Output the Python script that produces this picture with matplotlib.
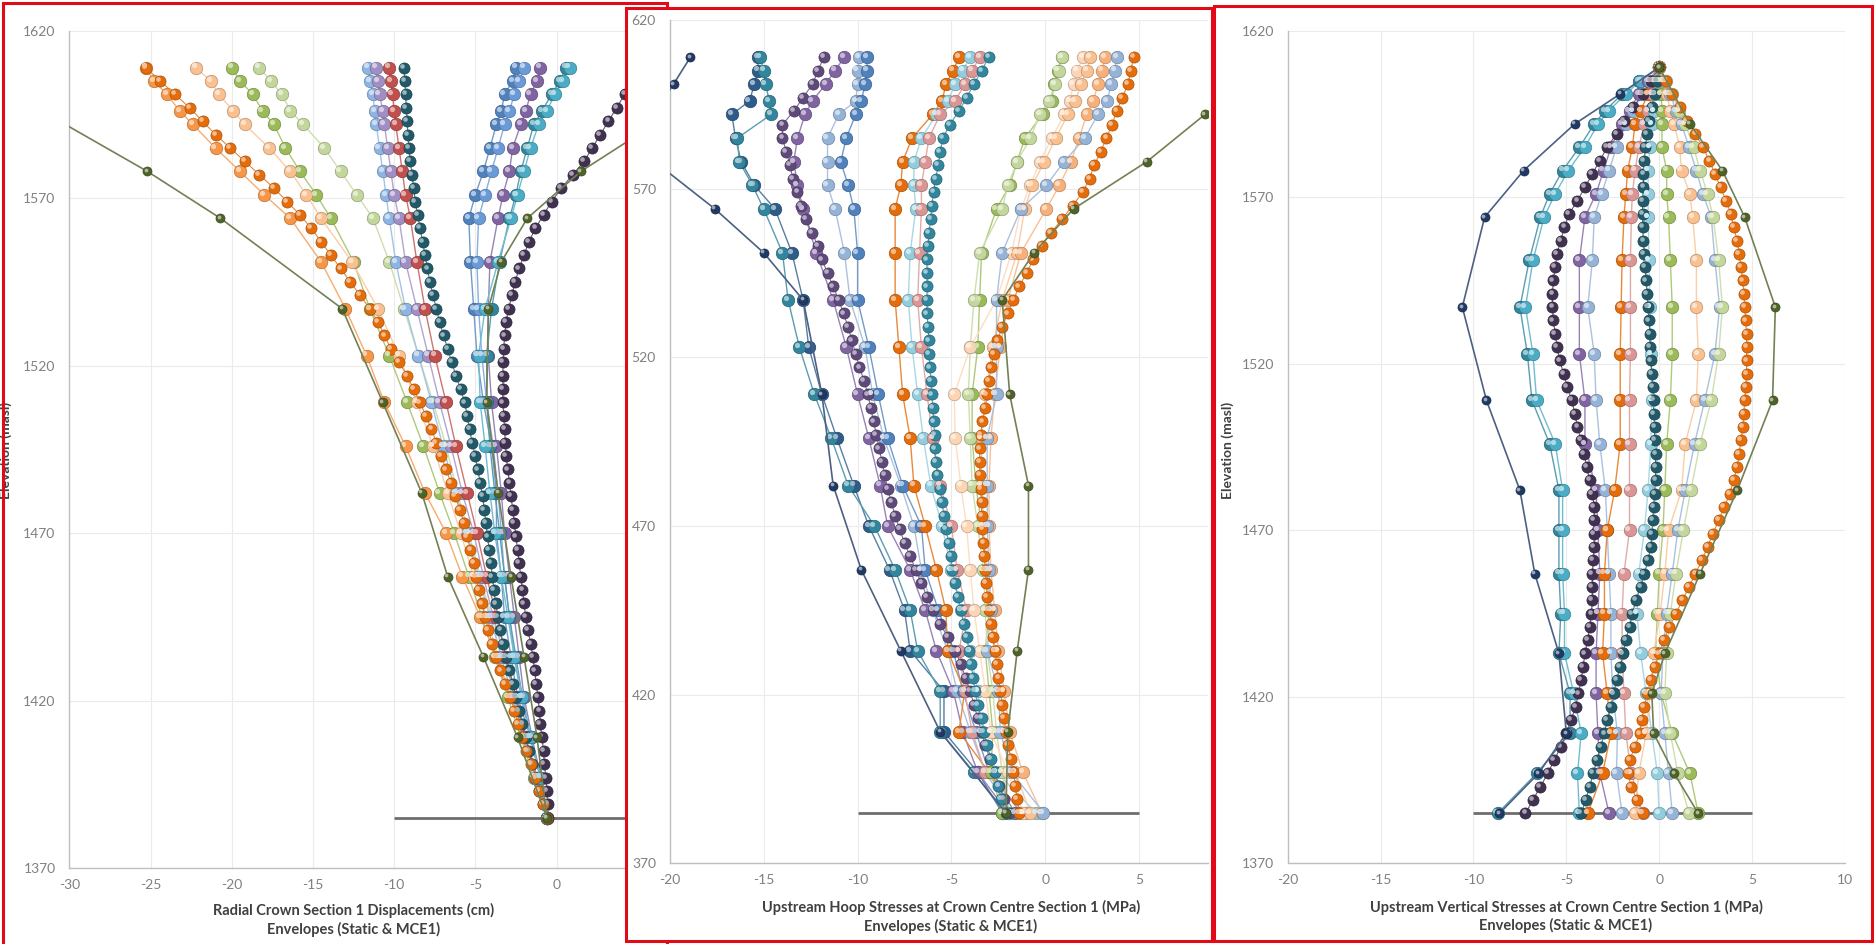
import matplotlib
matplotlib.use("Agg")
import matplotlib.pyplot as plt
import matplotlib.colors as mcolors
from matplotlib.patches import Rectangle
from matplotlib.transforms import offset_copy

plt.rcParams['font.family'] = ['Lato', 'DejaVu Sans']
plt.rcParams['axes.unicode_minus'] = False

# ---------------- data ----------------
Y_TICKS = [1370, 1420, 1470, 1520, 1570, 1620]
Y_LABELS_FULL = ["1370", "1420", "1470", "1520", "1570", "1620"]
Y_LABELS_CUT = ["370", "420", "470", "520", "570", "620"]

# sparse node elevations (top to bottom)
ELEV_NODES = [1609, 1605, 1601, 1596, 1592, 1585, 1578, 1571, 1564, 1551, 1537, 1523,
              1509, 1496, 1482, 1470, 1457, 1445, 1433, 1421, 1409, 1397, 1385]
# dense node elevations (bottom to top, 4 m apart)
ELEV_DENSE = list(range(1385, 1610, 4))

# ---- panel 1: radial displacements (cm) ----
P1_ORANGE = [-25.3, -24.8, -24.0, -23.2, -22.4, -21.0, -19.5, -18.0, -16.4, -14.5, -13.0, -11.7,
             -10.6, -9.3, -8.1, -6.8, -5.8, -4.7, -3.7, -2.8, -2.0, -1.2, -0.6]
P1_LIGHT_ORANGE = [-22.2, -21.3, -20.8, -19.9, -19.2, -17.7, -16.4, -15.4, -14.5, -12.6, -11.0, -9.7,
                   -8.6, -7.6, -6.7, -5.9, -5.1, -4.3, -3.6, -2.8, -2.0, -1.3, -0.6]
P1_GREEN = [-20.0, -19.5, -18.7, -18.1, -17.4, -16.7, -15.8, -14.8, -13.9, -12.5, -11.5, -10.3,
            -9.2, -8.2, -7.2, -6.3, -5.4, -4.6, -3.8, -3.0, -2.2, -1.4, -0.6]
P1_LIGHT_GREEN = [-18.3, -17.6, -16.9, -16.4, -15.6, -14.3, -13.3, -12.3, -11.3, -10.3, -9.4, -8.5,
                  -7.6, -6.8, -6.1, -5.4, -4.7, -4.0, -3.4, -2.7, -2.0, -1.3, -0.6]
P1_STEEL = [-11.6, -11.5, -11.3, -11.2, -11.1, -10.9, -10.7, -10.5, -10.3, -9.9, -9.3, -8.5,
            -7.7, -7.0, -6.2, -5.5, -4.8, -4.1, -3.4, -2.7, -2.0, -1.3, -0.6]
P1_LAVENDER = [-11.1, -11.0, -10.9, -10.7, -10.6, -10.4, -10.2, -10.0, -9.7, -9.3, -8.6, -7.9,
               -7.2, -6.5, -5.8, -5.1, -4.5, -3.9, -3.2, -2.6, -1.9, -1.2, -0.6]
P1_RED = [-10.3, -10.2, -10.1, -10.0, -9.9, -9.7, -9.5, -9.3, -9.0, -8.6, -8.1, -7.5,
          -6.8, -6.2, -5.5, -4.9, -4.3, -3.7, -3.1, -2.5, -1.9, -1.2, -0.6]
P1_BLUE = [-2.5, -2.7, -3.2, -3.4, -3.7, -4.1, -4.5, -5.0, -5.4, -5.3, -5.1, -4.9,
           -4.5, -4.0, -3.7, -3.7, -3.4, -3.2, -2.8, -2.4, -1.6, -0.9, -0.6]
P1_BLUE2 = [-2.0, -2.3, -2.6, -2.9, -3.2, -3.6, -4.0, -4.4, -4.8, -4.9, -4.8, -4.6,
            -4.3, -3.9, -3.6, -3.4, -3.2, -2.9, -2.6, -2.2, -1.6, -1.0, -0.6]
P1_PURPLE = [-1.0, -1.2, -1.6, -1.9, -2.2, -2.7, -2.9, -3.3, -3.6, -4.1, -4.2, -4.2,
             -4.0, -3.7, -3.4, -3.2, -2.9, -2.6, -2.3, -2.0, -1.5, -1.0, -0.6]
P1_TEAL = [0.6, 0.2, -0.3, -0.9, -1.4, -1.8, -2.2, -2.5, -2.9, -3.5, -4.0, -4.3,
           -4.3, -4.1, -3.8, -3.5, -3.2, -2.9, -2.5, -2.1, -1.6, -1.0, -0.6]
P1_TEAL2 = [0.8, 0.4, -0.1, -0.6, -1.1, -1.6, -2.0, -2.4, -2.8, -3.6, -4.4, -4.8,
            -4.7, -4.4, -4.1, -3.8, -3.4, -3.0, -2.6, -2.1, -1.6, -1.0, -0.6]

P1_D_ORANGE = [-0.6, -0.85, -1.1, -1.3, -1.55, -1.85, -2.1, -2.35, -2.6, -2.85,
               -3.2, -3.45, -3.7, -3.95, -4.2, -4.4, -4.6, -4.8, -4.95, -5.1,
               -5.3, -5.5, -5.7, -5.95, -6.25, -6.5, -6.8, -7.1, -7.4, -7.7,
               -8.05, -8.4, -8.8, -9.2, -9.7, -10.2, -10.6, -11.0, -11.5, -12.1,
               -12.7, -13.3, -13.9, -14.5, -15.1, -15.8, -16.6, -17.4, -18.3, -19.2,
               -20.1, -21.0, -21.8, -22.6, -23.5, -24.4, -25.3]
P1_D_PURPLE = [-0.5, -0.55, -0.6, -0.65, -0.75, -0.8, -0.9, -1.0, -1.05, -1.15,
               -1.25, -1.35, -1.45, -1.6, -1.75, -1.9, -2.0, -2.1, -2.2, -2.3,
               -2.4, -2.5, -2.6, -2.7, -2.8, -2.9, -3.0, -3.1, -3.15, -3.2,
               -3.25, -3.3, -3.3, -3.3, -3.3, -3.25, -3.2, -3.1, -2.95, -2.75,
               -2.55, -2.3, -2.0, -1.7, -1.3, -0.8, -0.3, 0.3, 1.0, 1.7,
               2.2, 2.7, 3.2, 3.7, 4.2, 4.7, 5.2]
P1_D_TEAL = [-0.6, -0.85, -1.1, -1.3, -1.5, -1.7, -1.9, -2.1, -2.3, -2.5,
             -2.7, -2.9, -3.1, -3.3, -3.45, -3.6, -3.75, -3.85, -3.95, -4.05,
             -4.15, -4.25, -4.35, -4.45, -4.55, -4.7, -4.85, -5.0, -5.2, -5.35,
             -5.5, -5.65, -5.9, -6.2, -6.45, -6.7, -6.95, -7.2, -7.4, -7.6,
             -7.8, -7.95, -8.1, -8.25, -8.4, -8.55, -8.7, -8.8, -8.9, -9.0,
             -9.1, -9.15, -9.2, -9.25, -9.3, -9.35, -9.4]

P1_ENV_NEG_ELEV = [1601, 1578, 1564, 1537, 1509, 1482, 1457, 1433, 1409, 1385]
P1_ENV_NEG = [-33.5, -25.2, -20.7, -13.2, -10.7, -8.3, -6.7, -4.5, -2.4, -0.6]
P1_ENV_POS_ELEV = [1601, 1592, 1578, 1564, 1551, 1537, 1509, 1482, 1457, 1433, 1409, 1385]
P1_ENV_POS = [9.0, 6.0, 1.5, -1.8, -3.4, -4.2, -4.3, -3.6, -2.8, -2.0, -1.2, -0.6]

# ---- panel 2: upstream hoop stresses (MPa) ----
P2_TEAL = [-15.2, -15.0, -14.9, -14.7, -14.6, -16.4, -16.3, -15.6, -15.0, -14.0, -13.7, -13.1,
           -12.3, -11.4, -10.5, -9.1, -8.0, -7.2, -6.8, -5.6, -5.6, -3.8, -2.2]
P2_NAVY = [-15.3, -15.3, -15.5, -15.75, -16.7, -16.5, -16.2, -15.5, -14.4, -13.5, -12.9, -12.6,
           -11.9, -11.1, -10.2, -9.4, -8.3, -7.5, -7.2, -5.4, -5.4, -3.6, -2.3]
P2_LAVENDER = [-10.7, -11.2, -11.7, -12.4, -12.8, -13.2, -13.4, -13.2, -12.9, -12.2, -11.3, -10.6,
               -10.0, -9.4, -8.8, -8.4, -7.2, -6.4, -5.8, -4.9, -4.4, -3.6, -2.0]
P2_LIGHT_BLUE = [-9.9, -10.0, -10.0, -10.1, -11.0, -11.6, -11.6, -11.6, -11.2, -10.7, -10.4, -9.6,
                 -9.2, -8.6, -7.7, -7.0, -6.6, -6.0, -5.2, -4.7, -4.0, -3.2, -1.8]
P2_BLUE = [-9.5, -9.5, -9.6, -9.8, -10.1, -10.6, -10.9, -10.5, -10.2, -10.0, -10.0, -9.4,
           -8.9, -8.4, -7.6, -6.6, -6.4, -5.7, -4.9, -4.4, -3.7, -3.0, -1.6]
P2_ORANGE = [-4.6, -4.9, -5.3, -5.5, -6.0, -7.1, -7.6, -7.7, -8.0, -8.0, -8.0, -7.8,
             -7.6, -7.2, -7.0, -6.4, -5.8, -5.3, -5.2, -4.3, -4.6, -3.0, -1.3]
P2_ROSE = [-3.5, -3.9, -4.3, -4.8, -5.6, -6.2, -6.4, -6.6, -6.6, -6.7, -6.8, -6.6,
           -6.3, -6.0, -5.6, -5.0, -4.7, -4.2, -4.6, -4.3, -3.9, -3.2, -1.1]
P2_LIGHT_TEAL = [-4.0, -4.4, -4.8, -5.2, -5.8, -6.6, -7.0, -7.0, -6.9, -7.2, -7.3, -7.1,
                 -6.8, -6.5, -6.1, -5.5, -5.0, -4.5, -4.0, -3.6, -3.4, -2.6, -0.5]
P2_GREEN = [0.86, 0.65, 0.45, 0.35, -0.15, -1.1, -1.5, -1.9, -2.6, -3.4, -3.5, -3.6,
            -3.9, -3.9, -3.7, -3.4, -3.1, -3.0, -3.2, -3.0, -2.8, -2.9, -2.3]
P2_LIGHT_GREEN = [0.9, 0.7, 0.5, 0.2, -0.3, -0.8, -1.5, -2.0, -2.3, -3.5, -3.8, -4.0,
                  -4.1, -4.0, -3.9, -3.6, -3.3, -3.2, -3.1, -2.8, -2.6, -2.3, -1.9]
P2_PEACH = [2.0, 1.7, 1.5, 1.3, 1.0, 0.35, -0.3, -0.8, -1.3, -1.8, -2.6, -4.0,
            -4.85, -4.8, -4.5, -4.2, -4.0, -3.8, -3.5, -3.2, -2.9, -2.0, -1.2]
P2_LIGHT_ORANGE = [2.4, 2.2, 1.9, 1.6, 1.2, 0.55, -0.05, -0.7, -1.1, -1.5, -2.3, -2.8,
                   -3.2, -3.4, -3.4, -3.3, -3.1, -2.9, -2.7, -2.5, -2.2, -1.6, -0.8]
P2_LIGHT_ORANGE2 = [3.2, 3.0, 2.8, 2.55, 2.2, 1.8, 1.35, 0.75, 0.05, -1.3, -2.0, -2.4,
                    -2.7, -2.9, -3.0, -3.0, -2.9, -2.7, -2.5, -2.2, -1.9, -1.2, -0.2]
P2_LIGHT_BLUE2 = [3.8, 3.7, 3.5, 3.3, 2.8, 2.1, 1.0, 0.05, -1.3, -2.3, -2.6, -2.6,
                  -2.6, -3.1, -3.1, -3.1, -3.0, -2.9, -3.1, -2.5, -2.4, -1.8, -0.1]

P2_D_PURPLE = [-1.9, -2.2, -2.45, -2.7, -2.95, -3.2, -3.4, -3.6, -3.8, -4.0,
               -4.25, -4.5, -4.8, -5.2, -5.6, -6.0, -6.3, -6.6, -6.9, -7.2,
               -7.5, -7.75, -8.0, -8.2, -8.4, -8.55, -8.7, -8.85, -9.0, -9.15,
               -9.3, -9.45, -9.65, -9.9, -10.1, -10.3, -10.5, -10.75, -11.0, -11.3,
               -11.6, -11.9, -12.1, -12.45, -12.75, -13.0, -13.2, -13.45, -13.6, -13.8,
               -14.0, -14.0, -13.4, -12.9, -12.4, -12.1, -11.8]
P2_D_TEAL = [-2.1, -2.35, -2.5, -2.7, -2.9, -3.1, -3.25, -3.4, -3.6, -3.75,
             -3.85, -3.95, -4.05, -4.2, -4.35, -4.5, -4.65, -4.8, -4.95, -5.05,
             -5.15, -5.3, -5.4, -5.5, -5.6, -5.75, -5.85, -5.9, -5.9, -5.95,
             -6.0, -6.05, -6.1, -6.15, -6.2, -6.2, -6.25, -6.3, -6.3, -6.3,
             -6.3, -6.3, -6.25, -6.2, -6.1, -6.05, -5.95, -5.85, -5.7, -5.6,
             -5.45, -5.1, -4.6, -4.2, -3.8, -3.4, -3.0]
P2_D_ORANGE = [-1.4, -1.5, -1.6, -1.7, -1.85, -2.0, -2.1, -2.2, -2.3, -2.4,
               -2.5, -2.6, -2.7, -2.8, -2.9, -3.0, -3.1, -3.15, -3.2, -3.25,
               -3.3, -3.35, -3.4, -3.4, -3.45, -3.5, -3.5, -3.5, -3.45, -3.35,
               -3.2, -3.1, -3.0, -2.9, -2.75, -2.55, -2.3, -2.0, -1.7, -1.4,
               -1.0, -0.65, -0.2, 0.3, 0.9, 1.45, 2.0, 2.35, 2.6, 2.95,
               3.25, 3.55, 3.8, 4.1, 4.4, 4.55, 4.7]

P2_ENV_NEG_ELEV = [1609, 1601, 1596, 1592, 1585, 1578, 1564, 1551, 1537, 1509, 1482, 1457, 1433, 1409, 1385]
P2_ENV_NEG = [-18.9, -19.8, -20.4, -21.5, -22.0, -20.8, -17.6, -15.0, -12.9, -11.9, -11.3, -9.8, -7.7, -5.6, -2.1]
P2_ENV_POS_ELEV = [1601, 1592, 1578, 1564, 1551, 1537, 1509, 1482, 1457, 1433, 1409, 1385]
P2_ENV_POS = [11.5, 8.5, 5.4, 1.5, -0.6, -2.3, -1.9, -0.9, -0.9, -1.5, -2.0, -2.1]

# ---- panel 3: upstream vertical stresses (MPa) ----
P3_TEAL = [0.0, -1.1, -2.0, -2.9, -3.5, -4.3, -5.2, -5.9, -6.4, -7.0, -7.5, -7.1,
           -6.85, -5.9, -5.4, -5.4, -5.4, -5.3, -5.4, -4.8, -4.8, -6.6, -8.7]
P3_TEAL2 = [0.0, -1.0, -1.8, -2.7, -3.3, -4.0, -4.9, -5.6, -6.2, -6.8, -7.2, -6.8,
            -6.6, -5.6, -5.2, -5.2, -5.2, -5.1, -5.1, -4.6, -4.2, -4.4, -4.3]
P3_LAVENDER = [0.0, -0.6, -1.1, -1.6, -2.0, -2.6, -3.0, -3.4, -4.0, -4.3, -4.3, -4.3,
               -4.0, -4.0, -3.4, -3.3, -3.2, -3.3, -3.4, -3.4, -3.3, -3.2, -2.7]
P3_LIGHT_BLUE = [0.0, -0.5, -0.9, -1.4, -1.8, -2.3, -2.7, -3.1, -3.5, -3.6, -3.85, -3.5,
                 -3.4, -3.2, -2.9, -2.8, -2.7, -2.6, -2.6, -2.5, -2.25, -2.3, -2.0]
P3_ORANGE = [0.0, -0.3, -0.6, -1.0, -1.3, -1.45, -1.7, -1.8, -1.9, -2.0, -2.05, -2.1,
             -2.1, -2.1, -2.4, -2.8, -2.95, -2.95, -3.05, -2.8, -2.6, -3.05, -3.85]
P3_ROSE = [0.0, -0.2, -0.4, -0.6, -0.8, -1.1, -1.3, -1.45, -1.5, -1.55, -1.55, -1.55,
           -1.6, -1.6, -1.6, -1.6, -1.9, -2.0, -2.0, -1.9, -1.8, -1.5, -0.9]
P3_LIGHT_TEAL = [0.0, -0.1, -0.2, -0.3, -0.4, -0.5, -0.6, -0.6, -0.6, -0.55, -0.5, -0.45,
                 -0.4, -0.45, -0.6, -0.8, -1.1, -1.2, -1.0, -0.7, -0.4, -0.1, 0.0]
P3_GREEN = [0.0, 0.05, 0.1, 0.15, 0.15, 0.15, 0.4, 0.4, 0.5, 0.6, 0.7, 0.7,
            0.6, 0.4, 0.3, 0.2, 0.0, -0.1, -0.2, 0.1, 0.7, 1.65, 2.1]
P3_LIGHT_ORANGE = [0.0, 0.2, 0.4, 0.6, 0.8, 1.1, 1.2, 1.65, 1.8, 2.0, 2.0, 2.1,
                   2.0, 1.4, 1.2, 0.5, 0.3, 0.05, -0.3, -0.5, -0.7, -1.1, -1.3]
P3_LIGHT_BLUE2 = [0.0, 0.3, 0.6, 0.9, 1.2, 1.6, 2.0, 2.35, 2.8, 3.0, 3.25, 3.0,
                  2.45, 1.9, 1.4, 1.0, 0.7, 0.4, 0.2, 0.1, 0.3, 0.5, 0.7]
P3_LIGHT_GREEN = [0.0, 0.35, 0.7, 1.05, 1.4, 1.85, 2.2, 2.6, 2.9, 3.2, 3.4, 3.2,
                  2.8, 2.2, 1.7, 1.3, 0.9, 0.6, 0.4, 0.3, 0.6, 1.0, 1.6]

P3_D_ORANGE = [-0.9, -1.2, -1.5, -1.7, -1.6, -1.3, -1.05, -0.95, -0.8, -0.65,
               -0.45, -0.25, 0.0, 0.25, 0.55, 0.9, 1.25, 1.6, 1.95, 2.3,
               2.6, 2.9, 3.2, 3.5, 3.8, 4.0, 4.2, 4.3, 4.4, 4.5,
               4.55, 4.6, 4.65, 4.7, 4.7, 4.7, 4.7, 4.65, 4.6, 4.55,
               4.5, 4.4, 4.3, 4.2, 4.0, 3.85, 3.6, 3.3, 3.0, 2.7,
               2.35, 1.95, 1.5, 1.1, 0.7, 0.35, 0.0]
P3_D_TEAL = [-4.2, -3.95, -3.75, -3.55, -3.35, -3.15, -2.95, -2.8, -2.6, -2.45,
             -2.3, -2.1, -1.95, -1.8, -1.6, -1.45, -1.25, -1.0, -0.8, -0.6,
             -0.45, -0.4, -0.35, -0.3, -0.25, -0.2, -0.2, -0.2, -0.25, -0.25,
             -0.3, -0.3, -0.35, -0.4, -0.45, -0.5, -0.5, -0.55, -0.6, -0.65,
             -0.7, -0.75, -0.8, -0.85, -0.9, -0.9, -0.9, -0.85, -0.85, -0.8,
             -0.75, -0.65, -0.55, -0.4, -0.25, -0.1, 0.0]
P3_D_PURPLE = [-7.2, -6.8, -6.4, -6.0, -5.65, -5.3, -5.0, -4.75, -4.5, -4.35,
               -4.2, -4.1, -4.0, -3.85, -3.75, -3.65, -3.6, -3.6, -3.6, -3.55,
               -3.5, -3.5, -3.5, -3.5, -3.6, -3.75, -3.9, -4.05, -4.2, -4.4,
               -4.55, -4.7, -4.95, -5.15, -5.35, -5.5, -5.6, -5.7, -5.75, -5.75,
               -5.7, -5.6, -5.5, -5.3, -5.1, -4.85, -4.4, -4.0, -3.6, -3.2,
               -2.8, -2.3, -1.9, -1.4, -0.9, -0.45, 0.0]

P3_ENV_NEG_ELEV = [1609, 1601, 1592, 1578, 1564, 1537, 1509, 1482, 1457, 1433, 1409, 1397, 1385]
P3_ENV_NEG = [0.0, -2.1, -4.55, -7.3, -9.4, -10.6, -9.3, -7.5, -6.7, -5.4, -5.0, -6.5, -8.6]
P3_ENV_POS_ELEV = [1609, 1592, 1578, 1564, 1537, 1509, 1482, 1457, 1433, 1421, 1409, 1397, 1385]
P3_ENV_POS = [0.0, 1.65, 3.4, 4.6, 6.25, 6.1, 4.2, 2.2, 0.3, -0.4, -0.3, 0.8, 2.1]

BASE_ELEV = 1385

# ---------------- drawing ----------------
W, H = 1876, 944
fig = plt.figure(figsize=(W / 100, H / 100), dpi=100)
fig.patch.set_facecolor("white")
RED = "#E30A17"


def lighten(c, f):
    r, g, b = mcolors.to_rgb(c)
    return (r + (1 - r) * f, g + (1 - g) * f, b + (1 - b) * f)


def darken(c, f):
    r, g, b = mcolors.to_rgb(c)
    return (r * (1 - f), g * (1 - f), b * (1 - f))


def frame(l, t, r, b, z):
    # white card, red outline drawn just above the card's own contents
    box = ((l / W, 1 - b / H), (r - l) / W, (b - t) / H)
    fig.add_artist(Rectangle(*box, transform=fig.transFigure, facecolor="white",
                             edgecolor="none", zorder=z))
    fig.add_artist(Rectangle(*box, transform=fig.transFigure, facecolor="none",
                             edgecolor=RED, lw=2.2, zorder=z + 1.8))


def px_axes(l, t, r, b, z):
    ax = fig.add_axes([l / W, 1 - b / H, (r - l) / W, (b - t) / H])
    ax.set_zorder(z)
    ax.patch.set_alpha(0)
    return ax


def style(ax, xlim, xticks, ylabels):
    ax.set_xlim(*xlim)
    ax.set_ylim(1370, 1620)
    ax.set_xticks(xticks)
    ax.set_yticks(Y_TICKS)
    ax.set_yticklabels(ylabels)
    ax.grid(True, color="#EBEBEB", lw=0.8)
    ax.set_axisbelow(True)
    for s in ("top", "right"):
        ax.spines[s].set_visible(False)
    for s in ("left", "bottom"):
        ax.spines[s].set_color("#BFBFBF")
        ax.spines[s].set_linewidth(1.0)
    ax.tick_params(length=0, labelsize=10, labelcolor="#808080")
    ax.tick_params(axis="x", pad=8)
    ax.tick_params(axis="y", pad=10)


def beads(ax, xs, ys, color, ms=9.0, lw=1.0, z=3):
    assert len(xs) == len(ys), (len(xs), len(ys))
    ax.plot(xs, ys, "-", color=lighten(color, 0.2), lw=lw, zorder=z)
    ax.plot(xs, ys, "o", ls="none", ms=ms, mfc=color, mec=darken(color, 0.25),
            mew=0.5, zorder=z + 0.1)
    hl = offset_copy(ax.transData, fig=fig, x=-ms * 0.17, y=ms * 0.17, units="points")
    ax.plot(xs, ys, "o", ls="none", ms=ms * 0.42, mfc=lighten(color, 0.55),
            mec="none", transform=hl, zorder=z + 0.2)


def envelope(ax, xs, ys, color):
    beads(ax, xs, ys, color, ms=6.5, lw=1.2, z=4)


def base_line(ax, x0, x1):
    ax.plot([x0, x1], [BASE_ELEV, BASE_ELEV], color="#6E6E6E", lw=2.0,
            solid_capstyle="butt", zorder=2)


def put(x, y, s, z, **kw):
    fig.text(x / W, 1 - y / H, s, zorder=z, **kw)


TITLE = dict(ha="center", va="center", fontsize=10.5, fontweight="bold", color="#404040")
YLAB = dict(ha="center", va="center", fontsize=10, fontweight="bold",
            color="#404040", rotation=90)
DENSE_MS = 8

# ---- panel 1 ----
frame(3, 3, 667, 960, 0)
ax1 = px_axes(69.4, 30.7, 637.7, 868, 1)
style(ax1, (-30, 5), [-30, -25, -20, -15, -10, -5, 0, 5], Y_LABELS_FULL)
base_line(ax1, -10, 5)
for vals, col in [(P1_LIGHT_GREEN, "#C3D69B"), (P1_GREEN, "#9BBB59"),
                  (P1_LIGHT_ORANGE, "#FAC090"), (P1_ORANGE, "#F79646"),
                  (P1_STEEL, "#8EB4E3"), (P1_LAVENDER, "#9F8FC4"), (P1_RED, "#C0504D"),
                  (P1_BLUE, "#4F81BD"), (P1_BLUE2, "#6A9BD8"), (P1_PURPLE, "#8064A2"),
                  (P1_TEAL, "#31859C"), (P1_TEAL2, "#4BACC6")]:
    beads(ax1, vals, ELEV_NODES, col)
beads(ax1, P1_D_TEAL, ELEV_DENSE, "#215968", ms=DENSE_MS, lw=0.8)
beads(ax1, P1_D_PURPLE, ELEV_DENSE, "#403151", ms=DENSE_MS, lw=0.8)
beads(ax1, P1_D_ORANGE, ELEV_DENSE, "#E46C0A", ms=DENSE_MS, lw=0.8)
envelope(ax1, P1_ENV_NEG, P1_ENV_NEG_ELEV, "#4F6228")
envelope(ax1, P1_ENV_POS, P1_ENV_POS_ELEV, "#4F6228")
put(6, 450, "Elevation (masl)", 1.5, **YLAB)
put(354, 910, "Radial Crown Section 1 Displacements (cm)", 1.5, **TITLE)
put(354, 929, "Envelopes (Static & MCE1)", 1.5, **TITLE)

# ---- panel 2 ----
frame(626, 8, 1212, 941, 2)
ax2 = px_axes(669.8, 20, 1208, 863.3, 3)
style(ax2, (-20, 8.66), [-20, -15, -10, -5, 0, 5], Y_LABELS_CUT)
base_line(ax2, -10, 5)
for vals, col in [(P2_NAVY, "#2E5C8A"), (P2_TEAL, "#31859C"), (P2_LAVENDER, "#8064A2"),
                  (P2_LIGHT_BLUE, "#95B3D7"), (P2_BLUE, "#4F81BD"),
                  (P2_ORANGE, "#E46C0A"), (P2_LIGHT_TEAL, "#93CDDD"), (P2_ROSE, "#D99694"),
                  (P2_GREEN, "#9BBB59"), (P2_LIGHT_GREEN, "#C3D69B"),
                  (P2_PEACH, "#FCD5B5"), (P2_LIGHT_ORANGE, "#FAC090"),
                  (P2_LIGHT_ORANGE2, "#F8B07A"), (P2_LIGHT_BLUE2, "#95B3D7")]:
    beads(ax2, vals, ELEV_NODES, col)
beads(ax2, P2_D_PURPLE, ELEV_DENSE, "#5F497A", ms=DENSE_MS, lw=0.8)
beads(ax2, P2_D_TEAL, ELEV_DENSE, "#31859C", ms=DENSE_MS, lw=0.8)
beads(ax2, P2_D_ORANGE, ELEV_DENSE, "#E46C0A", ms=DENSE_MS, lw=0.8)
envelope(ax2, P2_ENV_NEG, P2_ENV_NEG_ELEV, "#1F3864")
envelope(ax2, P2_ENV_POS, P2_ENV_POS_ELEV, "#4F6228")
put(951, 907, "Upstream Hoop Stresses at Crown Centre Section 1 (MPa)", 3.5, **TITLE)
put(951, 926, "Envelopes (Static & MCE1)", 3.5, **TITLE)

# ---- panel 3 ----
frame(1214, 6, 1872, 941, 4)
ax3 = px_axes(1287.7, 30.7, 1845, 863.3, 5)
style(ax3, (-20, 10), [-20, -15, -10, -5, 0, 5, 10], Y_LABELS_FULL)
base_line(ax3, -10, 5)
for vals, col in [(P3_TEAL, "#31859C"), (P3_TEAL2, "#4BACC6"), (P3_LAVENDER, "#8064A2"),
                  (P3_LIGHT_BLUE, "#95B3D7"), (P3_ORANGE, "#E46C0A"), (P3_ROSE, "#D99694"),
                  (P3_LIGHT_TEAL, "#93CDDD"), (P3_GREEN, "#9BBB59"),
                  (P3_LIGHT_ORANGE, "#FAC090"), (P3_LIGHT_BLUE2, "#95B3D7"),
                  (P3_LIGHT_GREEN, "#C3D69B")]:
    beads(ax3, vals, ELEV_NODES, col)
beads(ax3, P3_D_PURPLE, ELEV_DENSE, "#403151", ms=DENSE_MS, lw=0.8)
beads(ax3, P3_D_TEAL, ELEV_DENSE, "#215968", ms=DENSE_MS, lw=0.8)
beads(ax3, P3_D_ORANGE, ELEV_DENSE, "#E46C0A", ms=DENSE_MS, lw=0.8)
envelope(ax3, P3_ENV_NEG, P3_ENV_NEG_ELEV, "#1F3864")
envelope(ax3, P3_ENV_POS, P3_ENV_POS_ELEV, "#4F6228")
put(1228, 450, "Elevation (masl)", 5.5, **YLAB)
put(1566, 907, "Upstream Vertical Stresses at Crown Centre Section 1 (MPa)", 5.5, **TITLE)
put(1566, 925, "Envelopes (Static & MCE1)", 5.5, **TITLE)

fig.savefig("out.png", dpi=100, facecolor="white")
plt.close(fig)
